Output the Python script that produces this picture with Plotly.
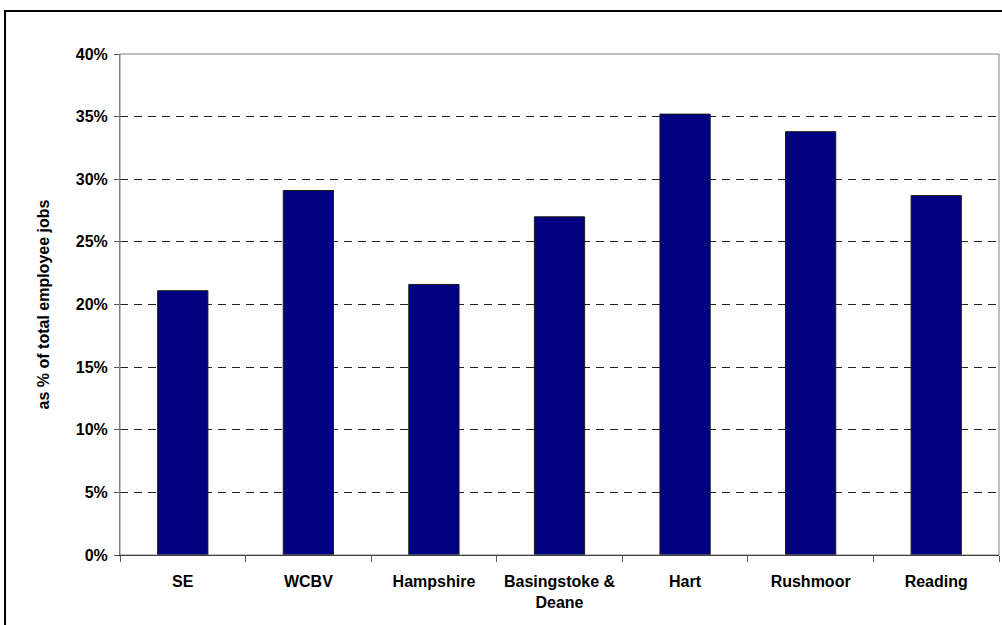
import plotly.graph_objects as go

categories = ["SE", "WCBV", "Hampshire", "Basingstoke &<br>Deane", "Hart", "Rushmoor", "Reading"]
values = [21.1, 29.1, 21.6, 27.0, 35.2, 33.8, 28.7]
y_ticks = [0, 5, 10, 15, 20, 25, 30, 35, 40]
y_title = "as % of total employee jobs"

FONT = "Liberation Sans, Arial, sans-serif"
FS = 16

fig = go.Figure()
fig.add_trace(go.Bar(
    x=categories, y=values,
    marker=dict(color="#000080", line=dict(color="#1a1a1a", width=1)),
    width=0.4,
    hoverinfo="skip",
))

fig.update_layout(
    width=1002, height=625,
    margin=dict(l=120, r=3, t=54, b=70),
    paper_bgcolor="white", plot_bgcolor="white",
    showlegend=False,
    font=dict(family=FONT, size=FS, color="black"),
)

fig.update_xaxes(
    type="category",
    showline=True, linecolor="black", linewidth=1,
    ticks="outside", ticklen=6, tickcolor="#555555", tickson="boundaries",
    ticklabelstandoff=12,
    tickfont=dict(family=FONT, size=FS, color="black", weight="bold"),
    showgrid=False, zeroline=False,
    range=[-0.5, 6.5],
)

fig.update_yaxes(
    range=[0, 40],
    tickvals=y_ticks,
    ticktext=[f"{v}%" for v in y_ticks],
    showline=True, linecolor="#808080", linewidth=1,
    ticks="outside", ticklen=5, tickcolor="#555555",
    ticklabelstandoff=3,
    tickfont=dict(family=FONT, size=FS, color="black", weight="bold"),
    showgrid=True, gridcolor="#222222", gridwidth=1, griddash="8px,6px",
    zeroline=False,
    title=dict(text=y_title, font=dict(family=FONT, size=FS, color="black", weight="bold"), standoff=22),
)

# plot area border (gray, top & right)
fig.add_shape(type="rect", xref="paper", yref="paper", x0=0, y0=0, x1=1, y1=1,
              line=dict(color="#808080", width=1), fillcolor="rgba(0,0,0,0)", layer="above")
# outer chart frame
fig.add_shape(type="rect", xref="paper", yref="paper", x0=-0.1308, y0=-0.16, x1=1.0125, y1=1.0858,
              line=dict(color="black", width=2), fillcolor="rgba(0,0,0,0)", layer="above")

fig.write_html("out.html", config={"displayModeBar": False, "staticPlot": True},
               post_script="document.body.style.margin='0';document.body.style.overflow='hidden';")
